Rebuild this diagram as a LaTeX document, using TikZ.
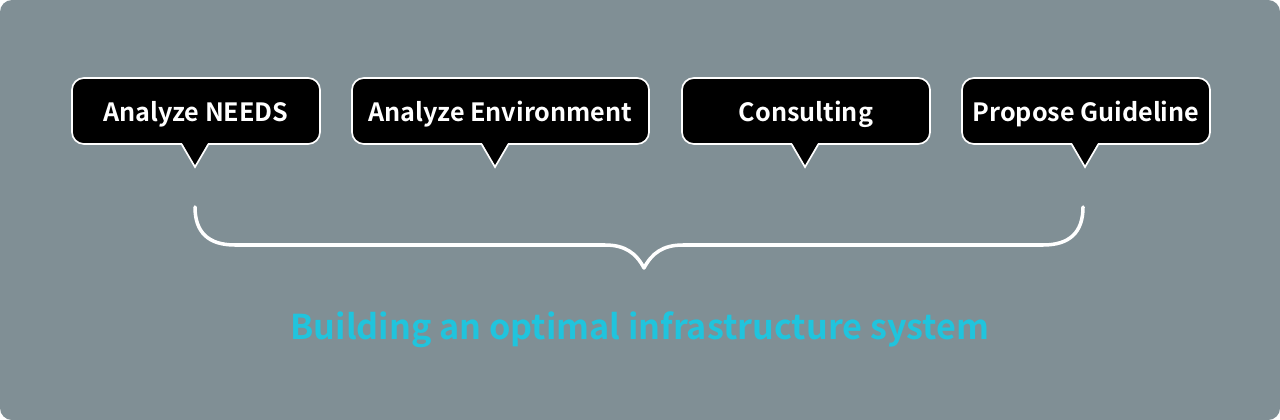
\documentclass[tikz,border=0pt]{standalone}
\usepackage{fontspec}
\setmainfont{Noto Sans CJK KR}[BoldFont={Noto Sans CJK KR Bold}]
\usetikzlibrary{positioning,calc}
\definecolor{panelgray}{RGB}{128,143,149}
\definecolor{goalcyan}{RGB}{32,196,221}
\tikzset{
  bubble/.style={draw=white, fill=black, line width=1.2pt, rounded corners=0.3cm,
    minimum height=1.65cm, inner sep=0pt, text=white, text height=15pt, text depth=0pt,
    font=\bfseries\fontsize{17.9}{21}\selectfont},
  brace/.style={draw=white, line width=2.5pt, line cap=round, line join=round},
  goal/.style={text=goalcyan, font=\bfseries\fontsize{24.3}{28}\selectfont}
}
\begin{document}
\begin{tikzpicture}[x=0.025cm, y=-0.025cm]
  \useasboundingbox (0,0) rectangle (1280,420);
  % Panel
  \fill[panelgray, rounded corners=0.3cm] (0,0) rectangle (1280,420);

  % Steps
  \node[bubble, minimum width=6.2cm] (b1) at (196,111) {Analyze NEEDS};
  \node[bubble, minimum width=7.425cm] (b2) at (500.5,111) {Analyze Environment};
  \node[bubble, minimum width=6.2cm] (b3) at (806,111) {Consulting};
  \node[bubble, minimum width=6.2cm] (b4) at (1086,111) {Propose Guideline};

  % Pointers
  \foreach \i/\tx in {1/195,2/495,3/805,4/1085}{
    \coordinate (t\i) at (\tx,167);
    \fill[black] ($(b\i.south -| t\i)+(-13,-2)$) -- (t\i) -- ($(b\i.south -| t\i)+(13,-2)$) -- cycle;
    \draw[white, line width=1.2pt] ($(b\i.south -| t\i)+(-13,0)$) -- (t\i) -- ($(b\i.south -| t\i)+(13,0)$);
  }

  % Brace
  \draw[brace] ($(t1)+(0,40)$) .. controls (195,232) and (208,245) .. (235,245) -- (605,245)
    .. controls (625,245) and (636,253) .. (644,268)
    .. controls (652,253) and (663,245) .. (683,245) -- (1043,245)
    .. controls (1070,245) and (1083,232) .. ($(t4)+(-2,40)$);

  % Goal
  \node[goal] (goal) at (640,330) {Building an optimal infrastructure system};
\end{tikzpicture}
\end{document}
